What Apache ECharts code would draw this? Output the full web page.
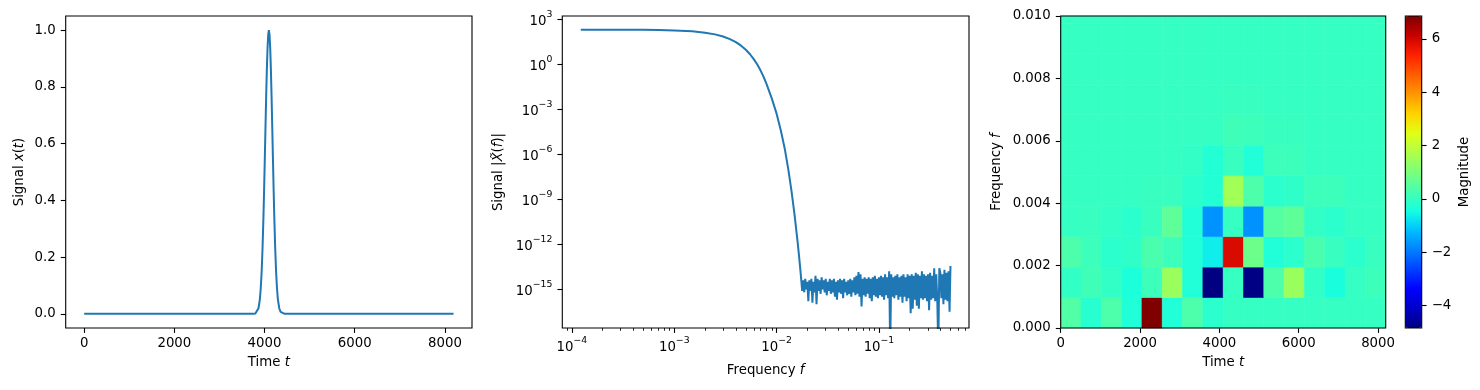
<!DOCTYPE html>
<html>
<head>
<meta charset="utf-8">
<script src="https://cdn.jsdelivr.net/npm/echarts@6.0.0/dist/echarts.min.js"></script>
<style>
html,body{margin:0;padding:0;background:#ffffff;}
#chart{width:1480px;height:390px;}
</style>
</head>
<body>
<div id="chart"></div>
<script>
// ---------------- Panel 1: signal x(t) ----------------
const timeT = [0, 3746, 3796, 3836, 3866, 3896, 3916, 3936, 3956, 3976, 3991, 4006, 4021, 4036, 4051, 4066, 4081, 4096,
  4111, 4126, 4141, 4156, 4171, 4186, 4201, 4216, 4236, 4256, 4276, 4296, 4326, 4356, 4396, 4446, 8191];
const signalX = [0, 0.0001, 0.0012, 0.0066, 0.0196, 0.051, 0.090, 0.149, 0.233, 0.343, 0.441, 0.548, 0.658, 0.765, 0.860, 0.935, 0.983, 1.0,
  0.983, 0.935, 0.860, 0.765, 0.658, 0.548, 0.441, 0.343, 0.233, 0.149, 0.090, 0.051, 0.0196, 0.0066, 0.0012, 0.0001, 0];

// ---------------- Panel 2: spectrum |X(f)| (log10 of magnitude) ----------------
const specFreq = [0.000122, 0.0003, 0.0005, 0.0007, 0.001, 0.0015, 0.002, 0.0025, 0.003, 0.0035, 0.004, 0.0045,
  0.005, 0.0055, 0.006, 0.0065, 0.007, 0.0075, 0.008, 0.009, 0.010, 0.011, 0.012, 0.013, 0.014, 0.015,
  0.016, 0.0165, 0.017, 0.0172];
const specLogMag = [2.31, 2.305, 2.297, 2.285, 2.26, 2.198, 2.11, 1.994, 1.851, 1.679, 1.478, 1.242,
  0.973, 0.669, 0.33, -0.035, -0.434, -0.868, -1.338, -2.307, -3.29, -4.41, -5.61, -6.985, -8.47, -10.065,
  -11.77, -12.66, -13.585, -13.96];
const noiseFreq = [
  0.01738, 0.01778, 0.01820, 0.01862, 0.01905, 0.01950, 0.01995, 0.02042, 0.02089, 0.02138,
  0.02188, 0.02239, 0.02291, 0.02344, 0.02399, 0.02455, 0.02512, 0.02570, 0.02630, 0.02692,
  0.02754, 0.02818, 0.02884, 0.02951, 0.03020, 0.03090, 0.03162, 0.03236, 0.03311, 0.03388,
  0.03467, 0.03548, 0.03631, 0.03715, 0.03802, 0.03890, 0.03981, 0.04074, 0.04169, 0.04266,
  0.04365, 0.04467, 0.04571, 0.04677, 0.04786, 0.04898, 0.05012, 0.05129, 0.05248, 0.05370,
  0.05495, 0.05623, 0.05754, 0.05888, 0.06026, 0.06166, 0.06310, 0.06457, 0.06607, 0.06761,
  0.06918, 0.07079, 0.07244, 0.07413, 0.07586, 0.07762, 0.07943, 0.08128, 0.08318, 0.08511,
  0.08710, 0.08913, 0.09120, 0.09333, 0.09550, 0.09772,
  0.1000, 0.1023, 0.1047, 0.1072, 0.1096, 0.1122, 0.1148, 0.1175, 0.1202, 0.1230,
  0.1259, 0.1288, 0.1318, 0.1349, 0.1380, 0.1413, 0.1445, 0.1479, 0.1514, 0.1549,
  0.1585, 0.1622, 0.1660, 0.1698, 0.1738, 0.1778, 0.1820, 0.1862, 0.1905, 0.1950,
  0.1995, 0.2042, 0.2089, 0.2138, 0.2188, 0.2239, 0.2291, 0.2344, 0.2399, 0.2455,
  0.2512, 0.2570, 0.2630, 0.2692, 0.2754, 0.2818, 0.2884, 0.2951, 0.3020, 0.3090,
  0.3162, 0.3236, 0.3311, 0.3388, 0.3467, 0.3548, 0.3631, 0.3715, 0.3802, 0.3890,
  0.3981, 0.4074, 0.4169, 0.4266, 0.4365, 0.4467, 0.4571, 0.4677, 0.4786, 0.4898,
  0.5000];
const noiseLogMag = [
  -14.3, -15.1, -14.4, -15.2, -14.3, -15.0, -14.5, -15.8, -14.4, -15.1,
  -14.3, -15.9, -14.5, -15.2, -14.1, -16.0, -14.3, -15.1, -14.4, -15.3,
  -14.2, -15.0, -14.4, -15.2, -14.3, -15.4, -14.5, -15.1, -14.3, -15.3,
  -14.4, -15.2, -14.3, -15.5, -14.5, -15.7, -14.4, -15.2, -14.3, -15.3,
  -14.4, -15.6, -14.3, -15.2, -14.5, -15.4, -14.4, -15.3, -14.3, -15.5,
  -14.4, -15.2, -14.2, -15.4, -14.1, -15.3, -13.85, -15.5, -14.0, -16.15,
  -14.3, -15.4, -14.2, -15.5, -14.3, -15.3, -14.2, -15.6, -14.3, -15.8,
  -14.2, -15.4, -14.1, -15.5, -14.3, -15.6,
  -14.2, -15.4, -14.1, -15.5, -14.2, -15.7, -14.0, -15.4, -14.2, -15.6,
  -13.8, -19.0, -14.0, -15.5, -14.2, -15.6, -14.1, -15.4, -14.0, -15.7,
  -14.2, -15.5, -14.1, -15.9, -14.0, -15.5, -14.2, -15.8, -14.0, -15.6,
  -14.1, -16.6, -14.0, -16.3, -14.1, -15.7, -13.9, -16.1, -14.0, -16.3,
  -14.1, -15.6, -13.8, -15.7, -14.0, -15.6, -14.1, -15.8, -14.0, -16.4,
  -13.9, -15.7, -14.1, -15.6, -13.6, -15.8, -14.0, -15.7, -19.0, -13.6,
  -13.9, -15.6, -14.0, -16.0, -13.7, -15.7, -13.9, -15.8, -13.8, -16.5,
  -13.45];

// ---------------- Panel 3: time-frequency magnitude ----------------
const timeEdges = [0, 512, 1024, 1536, 2048, 2560, 3072, 3584, 4096, 4608, 5120, 5632, 6144, 6656, 7168, 7680, 8192];
const freqEdges = [0, 0.000977, 0.001953, 0.002930, 0.003906, 0.004883, 0.005859, 0.006836, 0.007813, 0.008789, 0.009766, 0.010742];
const magRows = [
  [0.4, -0.2, 0.35, -0.3, 6.86, -0.3, 0.35, -0.15, 0, 0, 0, 0, 0, 0, 0, 0],
  [-0.05, 0.15, -0.05, -0.35, 0.1, 1.45, -0.3, -4.84, 0.0, -4.8, 0.35, 1.45, -0.05, -0.4, 0.0, 0.1],
  [0.35, 0.1, -0.15, -0.1, 0.3, 0.1, -0.3, -0.65, 5.9, 0.8, -0.3, -0.15, 0.3, 0.05, -0.15, 0.05],
  [0.0, 0.05, -0.05, -0.15, 0.05, 0.6, -0.3, -1.7, 0.0, -1.7, 0.45, 0.6, -0.05, -0.15, 0.0, 0.0],
  [0, 0, 0, 0, 0.05, 0.05, -0.15, -0.25, 1.55, 0.35, -0.15, -0.1, 0.1, 0.1, 0, 0],
  [0, 0, 0, 0, 0, 0, -0.05, -0.25, 0.05, -0.3, 0.1, 0.1, 0, 0, 0, 0],
  [0, 0, 0, 0, 0, 0, 0, 0, 0.15, 0.1, 0.05, 0.05, 0, 0, 0, 0],
  [0, 0, 0, 0, 0, 0, 0, 0, 0.05, 0.05, 0, 0, 0, 0, 0, 0],
  [0, 0, 0, 0, 0, 0, 0, 0, 0, 0, 0, 0, 0, 0, 0, 0],
  [0, 0, 0, 0, 0, 0, 0, 0, 0, 0, 0, 0, 0, 0, 0, 0],
  [0, 0, 0, 0, 0, 0, 0, 0, 0, 0, 0, 0, 0, 0, 0, 0]
];
const magMin = -4.84, magMax = 6.86;

// ---------------- Ticks ----------------
const p1XTicks = [0, 2000, 4000, 6000, 8000];
const p1YTicks = [0, 0.2, 0.4, 0.6, 0.8, 1.0];
const p2XTickFreqs = [1e-4, 1e-3, 1e-2, 1e-1];
const p2XMinorFreqs = [9e-5, 2e-4, 3e-4, 4e-4, 5e-4, 6e-4, 7e-4, 8e-4, 9e-4, 2e-3, 3e-3, 4e-3, 5e-3, 6e-3, 7e-3, 8e-3, 9e-3,
  2e-2, 3e-2, 4e-2, 5e-2, 6e-2, 7e-2, 8e-2, 9e-2, 2e-1, 3e-1, 4e-1, 5e-1, 6e-1, 7e-1];
const p2YTickMags = [1e-15, 1e-12, 1e-9, 1e-6, 1e-3, 1e0, 1e3];
const p3XTicks = [0, 2000, 4000, 6000, 8000];
const p3YTicks = [0, 0.002, 0.004, 0.006, 0.008, 0.010];
const cbTicks = [-4, -2, 0, 2, 4, 6];

// jet colormap samples (0..1 step 1/16)
const jetColors = ['#000080', '#0000c8', '#0000ff', '#0040ff', '#0080ff', '#00bfff', '#15ffe2', '#48ffaf', '#7bff7b',
  '#afff48', '#e2ff15', '#ffd200', '#ff9700', '#ff5c00', '#ff2100', '#c80000', '#800000'];

// ---------------- Build ----------------
const FF = '"DejaVu Sans", sans-serif';
const FS = 13.3;
const SFS = 9.3;
const INK = '#000000';
const BLUE = '#1f77b4';
const uminus = v => String(v).replace('-', '\u2212');

const lg = Math.log10;
const signalData = timeT.map((t, i) => [t, signalX[i]]);
const specData = specFreq.map((f, i) => [lg(f), specLogMag[i]])
  .concat(noiseFreq.map((f, i) => [lg(f), noiseLogMag[i]]));
const cells = [];
magRows.forEach((row, r) => {
  row.forEach((v, c) => {
    cells.push([timeEdges[c], timeEdges[c + 1], freqEdges[r], freqEdges[r + 1], v]);
  });
});

function ticks(vals, len, w) {
  return { show: true, inside: false, customValues: vals, length: len, lineStyle: { color: INK, width: w } };
}
function labels(vals, fmt, margin, rich) {
  const o = { show: true, customValues: vals, formatter: fmt, color: INK, fontSize: FS, fontFamily: FF, margin: margin };
  if (rich) o.rich = rich;
  return o;
}
const supRich = {
  b: { fontSize: FS, fontFamily: FF, color: INK, lineHeight: 18, verticalAlign: 'bottom' },
  s: { fontSize: SFS, fontFamily: FF, color: INK, lineHeight: 10, verticalAlign: 'top' }
};
const powFmt = v => '{b|10}{s|' + uminus(Math.round(v)) + '}';
const nameStyle = {
  color: INK, fontSize: FS, fontFamily: FF,
  rich: { i: { fontStyle: 'italic', fontSize: FS, fontFamily: FF, color: INK } }
};
const gridBase = { show: true, borderColor: INK, borderWidth: 1.1, backgroundColor: 'transparent', z: 5, containLabel: false, outerBoundsMode: 'none' };
const noLine = { show: false, onZero: false };
const noSplit = { show: false };

function renderCell(params, api) {
  const p0 = api.coord([api.value(0), api.value(2)]);
  const p1 = api.coord([api.value(1), api.value(3)]);
  const cs = params.coordSys;
  const rect = echarts.graphic.clipRectByRect(
    { x: p0[0], y: p1[1], width: p1[0] - p0[0], height: p0[1] - p1[1] },
    { x: cs.x, y: cs.y, width: cs.width, height: cs.height });
  if (!rect) return null;
  const col = api.visual('color');
  return { type: 'rect', shape: rect, style: { fill: col, stroke: col, lineWidth: 0.6 } };
}

const option = {
  animation: false,
  backgroundColor: '#ffffff',
  textStyle: { fontFamily: FF },
  grid: [
    Object.assign({ left: 65.7, top: 16, width: 406.3, height: 312 }, gridBase),
    Object.assign({ left: 562.3, top: 16, width: 406.7, height: 312 }, gridBase),
    Object.assign({ left: 1060.7, top: 16, width: 325, height: 312 }, gridBase),
    Object.assign({ left: 1405.3, top: 16, width: 16.4, height: 312 }, gridBase, { z: 10 })
  ],
  xAxis: [
    { type: 'value', gridIndex: 0, position: 'bottom', min: -409.55, max: 8600.55, axisLine: noLine, splitLine: noSplit,
      axisTick: ticks(p1XTicks, 4.9, 1.1), axisLabel: labels(p1XTicks, v => String(v), 9),
      name: 'Time {i|t}', nameLocation: 'middle', nameGap: 28, nameTextStyle: nameStyle },
    { type: 'value', gridIndex: 1, position: 'bottom', min: -4.094, max: -0.120, axisLine: noLine, splitLine: noSplit,
      axisTick: ticks(p2XTickFreqs.map(lg), 4.9, 1.1), axisLabel: labels(p2XTickFreqs.map(lg), powFmt, 8, supRich),
      name: 'Frequency {i|f}', nameLocation: 'middle', nameGap: 36, nameTextStyle: nameStyle },
    { type: 'value', gridIndex: 1, position: 'bottom', offset: 0, min: -4.094, max: -0.120, axisLine: noLine, splitLine: noSplit,
      axisTick: ticks(p2XMinorFreqs.map(lg), 2.8, 0.85), axisLabel: { show: false } },
    { type: 'value', gridIndex: 2, position: 'bottom', min: 0, max: 8192, axisLine: noLine, splitLine: noSplit,
      axisTick: ticks(p3XTicks, 4.9, 1.1), axisLabel: labels(p3XTicks, v => String(v), 9),
      name: 'Time {i|t}', nameLocation: 'middle', nameGap: 28, nameTextStyle: nameStyle },
    { type: 'value', gridIndex: 3, min: 0, max: 1, show: false }
  ],
  yAxis: [
    { type: 'value', gridIndex: 0, position: 'left', min: -0.05, max: 1.05, axisLine: noLine, splitLine: noSplit,
      axisTick: ticks(p1YTicks, 4.9, 1.1), axisLabel: labels(p1YTicks, v => v.toFixed(1), 10),
      name: 'Signal {i|x}({i|t})', nameLocation: 'middle', nameGap: 40, nameTextStyle: nameStyle },
    { type: 'value', gridIndex: 1, position: 'left', min: -17.58, max: 3.22, axisLine: noLine, splitLine: noSplit,
      axisTick: ticks(p2YTickMags.map(lg), 4.9, 1.1), axisLabel: labels(p2YTickMags.map(lg), powFmt, 10, supRich),
      name: 'Signal |{i|X\u0303}({i|f})|', nameLocation: 'middle', nameGap: 57, nameTextStyle: nameStyle },
    { type: 'value', gridIndex: 2, position: 'left', min: 0, max: 0.01, axisLine: noLine, splitLine: noSplit,
      axisTick: ticks(p3YTicks, 4.9, 1.1), axisLabel: labels(p3YTicks, v => v.toFixed(3), 10),
      name: 'Frequency {i|f}', nameLocation: 'middle', nameGap: 58, nameTextStyle: nameStyle },
    { type: 'value', gridIndex: 3, position: 'right', min: magMin, max: magMax, axisLine: noLine, splitLine: noSplit,
      axisTick: ticks(cbTicks, 4.9, 1.1), axisLabel: labels(cbTicks, v => uminus(v), 10),
      name: 'Magnitude', nameLocation: 'middle', nameRotate: 90, nameGap: 36, nameTextStyle: nameStyle }
  ],
  visualMap: [{
    type: 'continuous', seriesIndex: 2, dimension: 4, min: magMin, max: magMax,
    inRange: { color: jetColors }, calculable: false, hoverLink: false, realtime: false,
    orient: 'vertical', left: 1405.3, top: 16, itemWidth: 16.4, itemHeight: 312, padding: 0,
    text: null, showLabel: false, borderWidth: 0
  }],
  series: [
    { type: 'line', xAxisIndex: 0, yAxisIndex: 0, data: signalData, showSymbol: false, symbol: 'none',
      lineStyle: { color: BLUE, width: 2 }, itemStyle: { color: BLUE }, clip: true, silent: true },
    { type: 'line', xAxisIndex: 1, yAxisIndex: 1, data: specData, showSymbol: false, symbol: 'none',
      lineStyle: { color: BLUE, width: 2 }, itemStyle: { color: BLUE }, clip: true, silent: true },
    { type: 'custom', xAxisIndex: 3, yAxisIndex: 2, data: cells, renderItem: renderCell,
      encode: { x: [0, 1], y: [2, 3] }, silent: true }
  ]
};

const chart = echarts.init(document.getElementById('chart'), null, { renderer: 'canvas' });
chart.setOption(option);
</script>
</body>
</html>
